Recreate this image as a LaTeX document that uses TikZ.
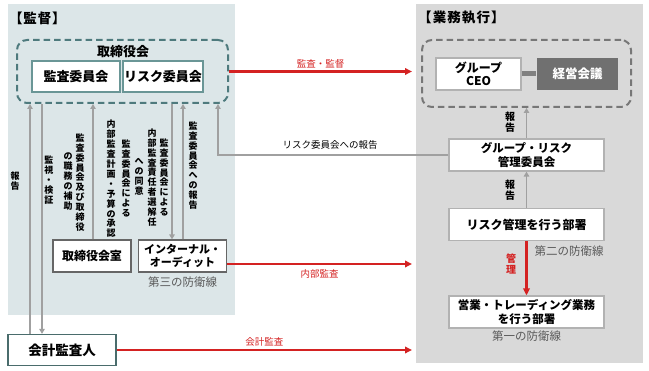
\documentclass[tikz,border=0pt]{standalone}
\usepackage{fontspec}
\setmainfont{Noto Sans CJK JP}
\usetikzlibrary{arrows.meta,positioning}
\definecolor{panelL}{HTML}{DCE6E8}
\definecolor{panelR}{HTML}{D9D9D9}
\definecolor{tealdash}{HTML}{4E7A7D}
\definecolor{tealline}{HTML}{6A9696}
\definecolor{tealdark}{HTML}{4A6C6C}
\definecolor{greydash}{HTML}{777777}
\definecolor{arrgrey}{HTML}{A0A0A0}
\definecolor{redline}{HTML}{D42222}
\definecolor{darkfill}{HTML}{707070}
\definecolor{capgrey}{HTML}{595959}

\ExplSyntaxOn
\NewDocumentCommand\vt{m}{
  \seq_clear:N \l_tmpa_seq
  \tl_map_inline:nn {#1} { \seq_put_right:Nn \l_tmpa_seq {##1} }
  \seq_use:Nn \l_tmpa_seq { \\ }
}
\ExplSyntaxOff

\begin{document}
\begin{tikzpicture}[x=1pt, y=-1pt,
  panel/.style={inner sep=0pt, anchor=north west},
  grp/.style={draw, dash pattern=on 6.5pt off 4pt, line width=2pt, rounded corners=10pt, inner sep=0pt},
  tbox/.style={draw=tealline, line width=1.2pt, fill=white, align=center, inner sep=1pt, minimum height=31pt, font=\bfseries\fontsize{13}{15}\selectfont},
  obox/.style={draw=black!60, line width=1.2pt, fill=white, align=center, inner sep=1pt, minimum height=32pt, font=\bfseries\fontsize{11.5}{14}\selectfont},
  rbox/.style={draw=black!30, line width=1.2pt, fill=white, align=center, inner sep=1pt, minimum width=155pt, minimum height=32pt, font=\bfseries\fontsize{11.5}{14}\selectfont},
  garr/.style={draw=arrgrey, line width=1.7pt, -{Triangle[length=5pt,width=5.5pt]}},
  rarr/.style={draw=redline, line width=2.2pt, -{Triangle[length=7pt,width=6.5pt]}},
  vlab/.style={align=center, inner sep=0pt, font=\bfseries\fontsize{9}{9.9}\selectfont},
  rlab/.style={text=redline, inner sep=1pt, font=\fontsize{9.5}{11}\selectfont},
  glab/.style={inner sep=1pt, font=\fontsize{9.5}{11}\selectfont},
  lineslab/.style={text=capgrey, font=\fontsize{11.5}{13}\selectfont}
]
\useasboundingbox (0,0) rectangle (649,371);

\node[panel, fill=panelL, minimum width=227pt, minimum height=311pt] (supbg) at (8,4) {};
\node[panel, fill=panelR, minimum width=227pt, minimum height=359pt] (execbg) at (416,4) {};
\node[anchor=west, inner sep=0pt, font=\bfseries\fontsize{13.5}{15}\selectfont] (suptitle) at (9,18) {\addfontfeature{LetterSpace=6}【監督】};
\node[anchor=west, inner sep=0pt, font=\bfseries\fontsize{13.5}{15}\selectfont] (exectitle) at (418,18) {\addfontfeature{LetterSpace=8}【業務執行】};

\node[grp, draw=tealdash, minimum width=211pt, minimum height=63pt] (board) at (122.5,71.5) {};
\node[inner sep=0pt, font=\bfseries\fontsize{13}{15}\selectfont] (boardlab) at (123,52) {取締役会};
\node[tbox, minimum width=88pt] (kansa) at (76,76.5) {監査委員会};
\node[tbox, minimum width=80pt] (risk) at (163,76.5) {リスク委員会};

\node[obox, minimum width=78pt, font=\bfseries\fontsize{12}{14}\selectfont] (shitsu) at (92,256) {取締役会室};
\node[obox, minimum width=88pt, font=\bfseries\fontsize{11}{13.5}\selectfont] (ia) at (182.5,256) {インターナル・\\オーディット};
\node[lineslab, below=1pt of ia] (line3) {第三の防衛線};
\node[tbox, draw=tealdark, minimum width=108pt, font=\bfseries\fontsize{13.5}{15}\selectfont] (auditor) at (62,350) {会計監査人};

\node[grp, draw=greydash, minimum width=209pt, minimum height=67pt] (exec) at (526.5,73.5) {};
\node[rbox, minimum width=85pt, font=\bfseries\fontsize{12}{13}\selectfont] (ceo) at (478.5,74) {グループ\\CEO};
\node[rbox, draw=none, fill=darkfill, text=white, minimum width=81pt, font=\bfseries\fontsize{12.5}{14}\selectfont] (keiei) at (577.5,74) {経営会議};
\draw[line width=5pt, draw=black!50] (ceo.east) -- (keiei.west);

\node[rbox] (grc) at (526.5,155) {グループ・リスク\\管理委員会};
\node[rbox, font=\bfseries\fontsize{12}{14}\selectfont] (rmd) at (526.5,224.5) {リスク管理を行う部署};
\node[rbox, font=\bfseries\fontsize{11.5}{13.5}\selectfont] (biz) at (526.5,312) {営業・トレーディング業務\\を行う部署};
\node[lineslab] (line2) at (569,251) {第二の防衛線};
\node[lineslab, below=-1pt of biz] (line1) {第一の防衛線};

\draw[garr] (grc.north) -- (grc.north |- exec.south);
\draw[garr] (rmd.north) -- (grc.south);
\draw[rarr] (rmd.south) -- (biz.north);
\node[vlab, font=\bfseries\fontsize{10}{11}\selectfont] (rep1) at (510,122) {\vt{報告}};
\node[vlab, font=\bfseries\fontsize{10}{11}\selectfont] (rep2) at (510,190) {\vt{報告}};
\node[vlab, text=redline, font=\bfseries\fontsize{10}{11}\selectfont] (kanri) at (511,264) {\vt{管理}};

\draw[garr] ([xshift=-32pt]auditor.north) -- ([xshift=-32pt]auditor.north |- board.south);
\draw[garr] ([xshift=-20pt]auditor.north |- board.south) -- ([xshift=-20pt]auditor.north);
\draw[garr] ([xshift=1pt]shitsu.north) -- ([xshift=1pt]shitsu.north |- board.south);
\draw[garr] ([xshift=-10.5pt]ia.north |- board.south) -- ([xshift=-10.5pt]ia.north);
\draw[garr] ([xshift=0.5pt]ia.north) -- ([xshift=0.5pt]ia.north |- board.south);
\draw[garr] (grc.west) -| ([xshift=95.5pt]board.south);
\node[glab] (risklab) at (330,145) {リスク委員会への報告};

\node[vlab] (v1) at (15,181) {\vt{報告}};
\node[vlab] (v2) at (49,180) {\vt{監視・検証}};
\node[vlab] (v3a) at (80,182.5) {\vt{監査委員会及び取締役}};
\node[vlab] (v3b) at (68,181.5) {\vt{の職務の補助}};
\node[vlab] (v4a) at (126,178.5) {\vt{監査委員会による}};
\node[vlab] (v4b) at (111,179) {\vt{内部監査計画・予算の承認}};
\node[vlab] (v5a) at (164,177.5) {\vt{監査委員会による}};
\node[vlab] (v5b) at (152,177.5) {\vt{内部監査責任者選解任}};
\node[vlab] (v5c) at (139,177) {\vt{への同意}};
\node[vlab] (v6) at (193,165.5) {\vt{監査委員会への報告}};

\coordinate (iaout) at ([yshift=-8pt]ia.east);
\draw[rarr] (board.east) -- ([xshift=-4pt]execbg.west |- board.east) node[rlab, midway, above=1pt] (lab1) {監査・監督};
\draw[rarr] (iaout) -- ([xshift=-4pt]execbg.west |- iaout) node[rlab, pos=0.5, below=3pt] (lab2) {内部監査};
\draw[rarr] (auditor.east) -- ([xshift=-4pt]execbg.west |- auditor.east) node[rlab, pos=0.5, above=2pt] (lab3) {会計監査};
\end{tikzpicture}
\end{document}
